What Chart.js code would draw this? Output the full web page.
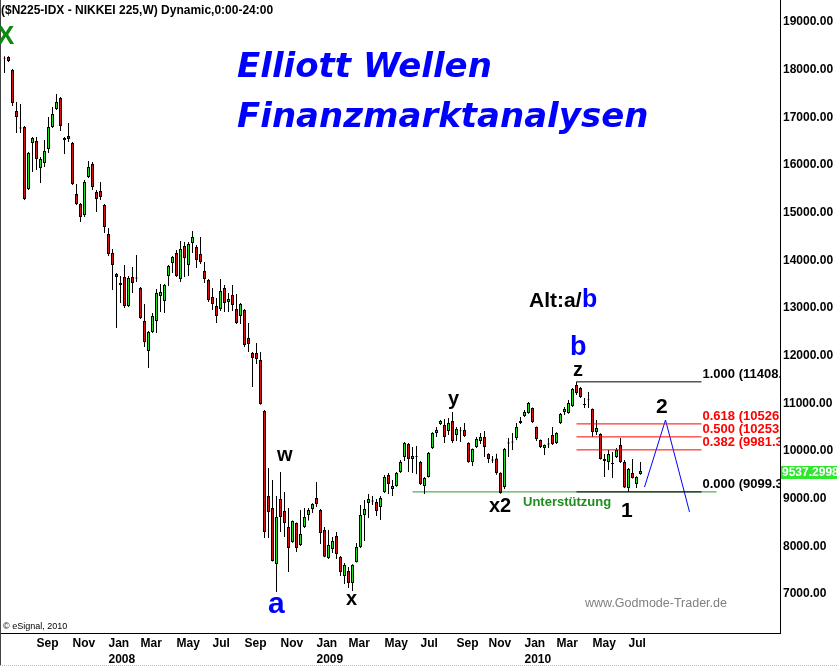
<!DOCTYPE html>
<html><head><meta charset="utf-8">
<script src="https://cdn.jsdelivr.net/npm/chart.js@4.4.0/dist/chart.umd.min.js"></script>
<style>html,body{margin:0;padding:0;background:#fff;overflow:hidden}canvas{display:block}</style>
</head><body>
<canvas id="c" width="837" height="666"></canvas>
<script>
// Weekly candles, week of 2007-07-09 .. week of 2010-07-26
const opens = [18190,18224,17951,17091,16744,16755,15454,16419,16461,15895,
16000,16294,16755,17133,17364,16524,16566,16419,15349,15140,
14909,15706,15979,15391,15412,15119,14510,14112,13671,13482,
13608,13000,13608,13598,13377,12685,12056,12454,12685,13209,
13105,13629,13902,14112,13566,14259,13860,14322,14238,14091,
13734,13545,13189,13000,12937,13377,13084,13231,12937,12790,
12916,12328,12013,12013,11867,10797,9014,8762,7587,8951,
8699,8363,8048,8447,7986,8363,8615,8741,8972,8720,
8300,7713,7902,8174,7734,7335,7440,7188,7629,7944,
8615,8867,8920,8888,8783,9097,9454,9160,9223,9517,
9832,10105,9790,9850,9727,9223,9412,10021,10336,10524,
10503,10377,10587,10293,10390,10398,10126,9727,10042,10168,
10251,9895,9780,9800,9496,9202,10136,10157,10231,10587,
10692,10755,10860,10461,10189,10021,10115,10293,10126,10545,
10776,10755,10902,11342,11280,10944,11040,10839,10357,10314,
9790,9727,9706,9832,10084,9727,9181,9496,9265,9475];
const highs = [18240,18240,17972,17280,17238,16776,16231,16545,16545,16126,
16482,16965,17175,17447,17385,16545,16839,16440,15559,15161,
15643,16042,16021,15433,15601,15140,14636,14196,13692,13629,
13860,13629,13818,14070,13398,13042,12475,12853,13356,13461,
13461,13860,14049,14175,14364,14343,14343,14573,14280,14447,
13923,13566,13377,13168,13566,13440,13272,13440,13251,13063,
12937,12643,12034,12223,12035,10818,9601,9349,9014,9517,
9097,8762,8500,8460,8720,8762,8762,8860,9307,8740,
8363,8300,8153,8258,7755,7608,7524,7580,8027,8825,
8930,9056,9014,8951,9014,9454,9496,9349,9517,9769,
10147,10126,10042,10063,9748,9412,9937,10350,10461,10608,
10629,10650,10776,10461,10461,10545,10140,10010,10251,10336,
10377,9910,9853,9900,9510,10021,10231,10336,10545,10671,
10818,10986,10870,10470,10200,10095,10231,10461,10350,10755,
10881,11028,11280,11408,11300,11070,11196,10850,10608,10330,
9895,9979,9937,10021,10231,9769,9601,9790,9430,9727];
const lows = [17890,18120,17196,16629,16629,15224,15433,15811,15853,15580,
15916,16210,16734,17112,16671,16189,16440,15538,15119,14762,
14867,15685,15433,14972,15224,14531,14049,13335,12538,13063,
12958,12979,13272,13503,12727,12140,11699,12433,12433,12874,
12853,13419,13692,13608,13503,13608,13629,14112,13797,13881,
13482,13084,12916,12643,12895,12874,12874,12895,12622,12622,
12140,12035,11300,11783,10930,8132,8132,7640,7000,8258,
8153,7419,8030,7839,7965,8342,8500,8657,8783,8006,
7730,7692,7818,7692,7335,7167,7084,7021,7620,7923,
8069,8552,8825,8594,8510,9077,9056,9014,9210,9496,
9748,9517,9496,9468,9244,9056,9400,10000,10251,10503,
10126,10293,10126,10168,10147,10251,9710,9643,10021,10105,
9832,9706,9706,9460,9060,9160,9832,9979,10189,10524,
10671,10740,10545,10168,10020,9874,10021,10084,10105,10524,
10713,10740,10881,11133,11070,10860,10860,10251,10293,9780,
9412,9559,9391,9811,9706,9181,9099,9380,9181,9460];
const closes = [18210,18140,17259,16965,16724,15244,16210,16524,16084,16084,
16252,16755,17028,17280,16776,16482,16503,15559,15140,14867,
15601,15916,15496,15244,15286,14657,14091,13860,13608,13440,
13000,13587,13482,13578,12748,12244,12454,12790,13272,13293,
13440,13839,14028,13629,14196,14007,14301,14447,13965,13923,
13566,13126,13042,12790,13314,13063,13147,13021,12643,13042,
12182,12203,11909,11888,10944,8258,8678,7650,8573,8573,
8447,7923,8489,7923,8216,8573,8720,8846,8846,8237,
7740,7986,8069,7797,7419,7566,7188,7566,7944,8615,
8741,8951,8900,8699,8972,9412,9265,9223,9496,9727,
10126,9790,9853,9830,9265,9391,9916,10336,10398,10587,
10251,10545,10168,10419,10370,10273,9727,9999,10210,10251,
10042,9790,9760,9496,9077,9999,10116,10137,10461,10545,
10776,10965,10566,10210,10042,10084,10095,10105,10336,10734,
10839,10965,11259,11175,11091,10923,11020,10357,10440,9790,
9748,9895,9685,9979,9727,9191,9580,9391,9412,9537];

const tickIndex = [8,17,26,34,43,52,60,69,78,86,95,104,113,121,130,138,147,156];
const tickLabels = [["Sep"],["Nov"],["Jan","2008"],["Mar"],["May"],["Jul"],["Sep"],["Nov"],["Jan","2009"],["Mar"],["May"],["Jul"],["Sep"],["Nov"],["Jan","2010"],["Mar"],["May"],["Jul"]];
const priceTicks = [7000,8000,9000,10000,11000,12000,13000,14000,15000,16000,17000,18000,19000];

const fibRatios = [1.000, 0.618, 0.500, 0.382, 0.000];
const fibValues = [11408.2, 10526.2, 10253.75, 9981.3, 9099.3];
const supportLevel = 9099.3;
const projIndex = [160, 165.25, 171.25];
const projValues = [9200, 10608, 8680];
const lastPrice = 9537.2998;

// ---- build datasets ----
const FONT = "'Liberation Sans', Arial, sans-serif";
const idx = opens.map((_, i) => i);
const bodies = idx.map(i => ({x: i, y: [opens[i], closes[i]]}));
const wicks = idx.map(i => ({x: i, y: [lows[i], highs[i]]}));
const bodyColors = idx.map(i => closes[i] >= opens[i] ? '#22dd22' : '#d41010');

const FIB_X0 = 143, FIB_X1 = 174.25;
const fibSets = fibValues.map((v, k) => ({
  type: 'line', order: 0,
  data: [{x: FIB_X0, y: v}, {x: FIB_X1, y: v}],
  borderColor: (fibRatios[k] === 1 || fibRatios[k] === 0) ? '#000000' : '#ff0000',
  borderWidth: 1, pointRadius: 0, tension: 0
}));

const datasets = [
  {type: 'bar', order: 1, data: bodies, backgroundColor: bodyColors, borderColor: '#000', borderWidth: 1,
   borderSkipped: false, barThickness: 3, grouped: false, inflateAmount: 0},
  {type: 'bar', order: 2, data: wicks, backgroundColor: '#000', borderWidth: 0,
   barThickness: 1, grouped: false, inflateAmount: 0},
  {type: 'line', order: 3, data: [{x: 102, y: supportLevel}, {x: 178, y: supportLevel}],
   borderColor: '#2a9a2a', borderWidth: 1, pointRadius: 0},
  ...fibSets,
  {type: 'line', order: 0, data: projIndex.map((x, i) => ({x, y: projValues[i]})),
   borderColor: '#0000ff', borderWidth: 1, pointRadius: 0, tension: 0}
];

const texts = [
  {t: '($N225-IDX - NIKKEI 225,W) Dynamic,0:00-24:00', x: 1, y: 14, f: 'bold 12px ' + FONT, c: '#000'},
  {t: 'X', x: -3, y: 44, f: 'bold 26px ' + FONT, c: '#0a8a0a'},
  {t: 'Elliott Wellen', x: 237, y: 77, f: "italic bold 34px 'DejaVu Sans'", c: '#0000ff'},
  {t: 'Finanzmarktanalysen', x: 237, y: 127, f: "italic bold 34px 'DejaVu Sans'", c: '#0000ff'},
  {t: 'Alt:a/', x: 529, y: 307, f: 'bold 21px ' + FONT, c: '#000'},
  {t: 'b', x: 582, y: 307, f: 'bold 25px ' + FONT, c: '#0000ff'},
  {t: 'b', x: 570, y: 355, f: 'bold 27px ' + FONT, c: '#0000ff'},
  {t: 'z', x: 573, y: 376, f: 'bold 20px ' + FONT, c: '#000'},
  {t: 'y', x: 448, y: 405, f: 'bold 20px ' + FONT, c: '#000'},
  {t: 'w', x: 277, y: 461, f: 'bold 20px ' + FONT, c: '#000'},
  {t: 'a', x: 268, y: 613, f: 'bold 30px ' + FONT, c: '#0000ff'},
  {t: 'x', x: 346, y: 605, f: 'bold 20px ' + FONT, c: '#000'},
  {t: 'x2', x: 489, y: 512, f: 'bold 20px ' + FONT, c: '#000'},
  {t: '1', x: 621, y: 517, f: 'bold 21px ' + FONT, c: '#000'},
  {t: '2', x: 656, y: 413, f: 'bold 21px ' + FONT, c: '#000'},
  {t: 'Unterstützung', x: 523, y: 506, f: 'bold 13px ' + FONT, c: '#1e8c1e'},
  {t: 'www.Godmode-Trader.de', x: 585, y: 607, f: '12.5px ' + FONT, c: '#808080'},
  {t: '© eSignal, 2010', x: 3, y: 629, f: '9px ' + FONT, c: '#000'}
];

const annot = {
  id: 'annot',
  afterDraw(chart) {
    const {ctx, chartArea: a, scales: {x, y}} = chart;
    ctx.save();
    ctx.strokeStyle = '#444'; ctx.lineWidth = 1;
    ctx.beginPath(); ctx.moveTo(0.5, 0); ctx.lineTo(0.5, 666); ctx.stroke();
    ctx.strokeStyle = '#bbb'; ctx.setLineDash([1, 1]);
    ctx.beginPath(); ctx.moveTo(0, 665.5); ctx.lineTo(837, 665.5); ctx.stroke();
    ctx.setLineDash([]);
    ctx.textBaseline = 'alphabetic'; ctx.textAlign = 'left';
    texts.forEach(o => { ctx.font = o.f; ctx.fillStyle = o.c; ctx.fillText(o.t, o.x, o.y); });
    // fib labels clipped to plot area
    ctx.save();
    ctx.beginPath(); ctx.rect(a.left, a.top, a.right - a.left, a.bottom - a.top); ctx.clip();
    ctx.font = 'bold 13px ' + FONT; ctx.textBaseline = 'middle';
    fibValues.forEach((v, k) => {
      const r = fibRatios[k];
      ctx.fillStyle = (r === 1 || r === 0) ? '#000' : '#ff0000';
      ctx.fillText(r.toFixed(3) + ' (' + v.toFixed(2) + ')', x.getPixelForValue(174.5), y.getPixelForValue(v) - 7);
    });
    ctx.restore();
    // last price box
    const py = y.getPixelForValue(lastPrice);
    ctx.fillStyle = '#2ee82e';
    ctx.fillRect(a.right + 1, Math.round(py) - 5, 60, 13);
    ctx.fillStyle = '#fff'; ctx.font = 'bold 12px ' + FONT; ctx.textBaseline = 'middle';
    ctx.fillText(lastPrice.toFixed(4), a.right + 2, Math.round(py) + 2);
    ctx.restore();
  }
};

new Chart(document.getElementById('c'), {
  type: 'bar',
  data: {datasets},
  options: {
    responsive: false, animation: false, devicePixelRatio: 1,
    layout: {padding: 0},
    plugins: {legend: {display: false}, tooltip: {enabled: false}},
    scales: {
      x: {
        type: 'linear', offset: false, min: -1.125, max: 193.875,
        grid: {display: false, drawTicks: false},
        border: {display: true, color: '#000', width: 1},
        afterBuildTicks: s => { s.ticks = tickIndex.map(v => ({value: v})); },
        afterFit: s => { s.height = 33; s.paddingLeft = 0; s.paddingRight = 0; },
        ticks: {
          autoSkip: false, maxRotation: 0, minRotation: 0, align: 'start', padding: 3,
          color: '#000', font: {family: FONT, size: 12, weight: 'bold', lineHeight: 1.3},
          callback: (v, i) => tickLabels[i]
        }
      },
      y: {
        type: 'linear', position: 'right', min: 6139, max: 19420,
        grid: {display: false, drawTicks: false},
        border: {display: true, color: '#000', width: 1},
        afterBuildTicks: s => { s.ticks = priceTicks.map(v => ({value: v})); },
        afterFit: s => { s.width = 57; s.paddingTop = 0; s.paddingBottom = 0; },
        ticks: {
          padding: 3, labelOffset: 2, color: '#000', font: {family: FONT, size: 12, weight: 'bold'},
          callback: v => Number(v).toFixed(2)
        }
      }
    }
  },
  plugins: [annot]
});
</script>
</body></html>
